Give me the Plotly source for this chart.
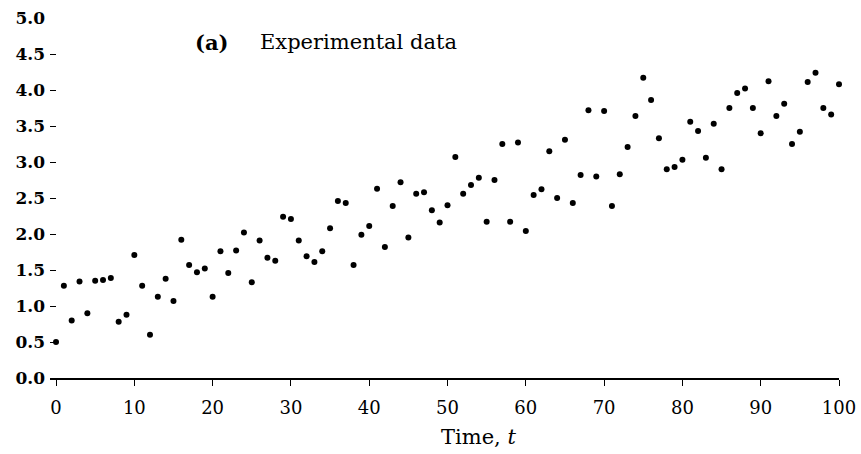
import plotly.graph_objects as go

t_values = list(range(0, 101))
y_values = [
    0.50, 1.28, 0.80, 1.34, 0.90, 1.35, 1.36, 1.39, 0.78, 0.88,
    1.71, 1.28, 0.60, 1.13, 1.38, 1.07, 1.92, 1.57, 1.47, 1.52,
    1.13, 1.76, 1.46, 1.77, 2.02, 1.33, 1.91, 1.67, 1.63, 2.24,
    2.21, 1.91, 1.69, 1.61, 1.76, 2.08, 2.46, 2.43, 1.57, 1.99,
    2.11, 2.63, 1.82, 2.39, 2.72, 1.95, 2.56, 2.58, 2.33, 2.16,
    2.40, 3.07, 2.56, 2.68, 2.78, 2.17, 2.75, 3.25, 2.17, 3.27,
    2.04, 2.54, 2.62, 3.15, 2.50, 3.31, 2.43, 2.82, 3.72, 2.80,
    3.71, 2.39, 2.83, 3.21, 3.64, 4.17, 3.86, 3.33, 2.90, 2.93,
    3.03, 3.56, 3.43, 3.06, 3.53, 2.90, 3.75, 3.96, 4.02, 3.75,
    3.40, 4.12, 3.64, 3.81, 3.25, 3.42, 4.11, 4.24, 3.75, 3.66,
    4.08,
]
x_ticks = [0, 10, 20, 30, 40, 50, 60, 70, 80, 90, 100]
y_ticks = [0.0, 0.5, 1.0, 1.5, 2.0, 2.5, 3.0, 3.5, 4.0, 4.5, 5.0]
y_tick_labels = [f"{v:.1f}" for v in y_ticks]

SERIF = "DejaVu Serif, Liberation Serif, serif"

fig = go.Figure()
fig.add_trace(go.Scatter(
    x=t_values, y=y_values, mode="markers",
    marker=dict(color="black", size=6),
    showlegend=False, cliponaxis=False, hoverinfo="skip",
))

fig.update_layout(
    template="none",
    width=861, height=454,
    margin=dict(l=50, r=22, t=18, b=76, autoexpand=False),
    paper_bgcolor="white", plot_bgcolor="white",
    font=dict(family=SERIF, color="black"),
    xaxis=dict(
        range=[-0.77, 100], tickvals=x_ticks, automargin=False,
        showgrid=False, zeroline=False,
        showline=True, linecolor="black", linewidth=1.5,
        ticks="outside", ticklen=6, tickcolor="black", tickwidth=1,
        tickfont=dict(family=SERIF, size=18, color="black"),
        ticklabelstandoff=7,
    ),
    yaxis=dict(
        range=[0, 5], tickvals=y_ticks, ticktext=y_tick_labels, automargin=False,
        showgrid=False, zeroline=False, showline=False,
        ticks="inside", ticklen=6, tickcolor="black", tickwidth=1,
        tickfont=dict(family=SERIF, size=17, color="black", weight="bold"),
        ticklabelstandoff=4,
    ),
    annotations=[
        dict(text="<b>(a)</b>", xref="paper", yref="paper",
             x=0.1812, y=0.933, xanchor="left", yanchor="middle",
             showarrow=False, font=dict(family=SERIF, size=21, color="black")),
        dict(text="Experimental data", xref="paper", yref="paper",
             x=0.2636, y=0.933, xanchor="left", yanchor="middle",
             showarrow=False, font=dict(family=SERIF, size=21, color="black")),
        dict(text="Time, <i>t</i>", xref="paper", yref="paper",
             x=0.5425, y=-0.164, xanchor="center", yanchor="middle",
             showarrow=False, font=dict(family=SERIF, size=21, color="black")),
    ],
)

fig.write_html(
    "out.html",
    config={"displayModeBar": False},
    post_script="document.body.style.margin='0px';document.body.style.overflow='hidden';",
)
